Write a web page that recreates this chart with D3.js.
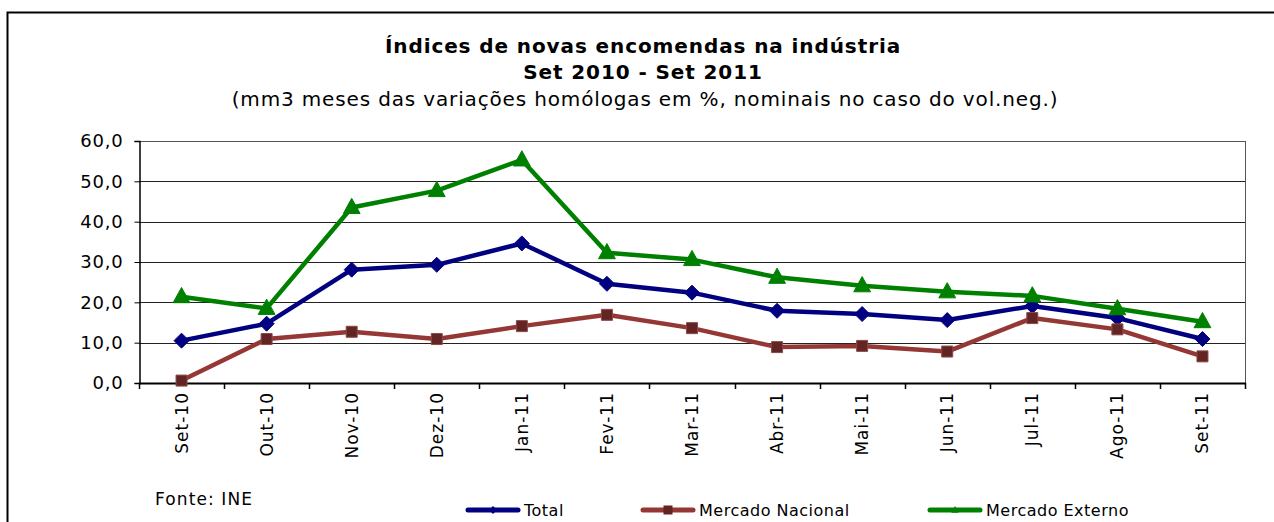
<!DOCTYPE html>
<html lang="pt">
<head>
<meta charset="UTF-8">
<title>Índices de novas encomendas na indústria</title>
<script src="https://cdn.jsdelivr.net/npm/d3@7"></script>
<style>
  body { margin: 0; background: #fff; }
  text { font-family: "DejaVu Sans", Verdana, sans-serif; fill: #000; }
</style>
</head>
<body>
<script>
// data
var categories = ["Set-10", "Out-10", "Nov-10", "Dez-10", "Jan-11", "Fev-11", "Mar-11",
                  "Abr-11", "Mai-11", "Jun-11", "Jul-11", "Ago-11", "Set-11"];
var total    = [10.5, 14.7, 28.1, 29.3, 34.6, 24.6, 22.4, 17.9, 17.1, 15.6, 19.1, 16.1, 10.9];
var nacional = [0.6, 10.9, 12.7, 10.9, 14.1, 16.9, 13.6, 8.9, 9.2, 7.8, 16.1, 13.3, 6.6];
var externo  = [21.4, 18.5, 43.5, 47.7, 55.3, 32.3, 30.6, 26.2, 24.1, 22.6, 21.6, 18.4, 15.2];
var yTicks = [0, 10, 20, 30, 40, 50, 60];

var series = [
  { name: "Total", values: total, line: "#000080", fill: "#000080", marker: "diamond" },
  { name: "Mercado Nacional", values: nacional, line: "#953735", fill: "#632523", marker: "square" },
  { name: "Mercado Externo", values: externo, line: "#008000", fill: "#008000", marker: "triangle" }
];

var W = 1274, H = 522;
var pLeft = 139, pRight = 1245, pTop = 141, pBottom = 383;

var svg = d3.select("body").append("svg")
    .attr("width", W)
    .attr("height", H);

// outer frame
svg.append("path")
    .attr("d", "M7.5," + H + " V12.5 H" + W)
    .attr("fill", "none")
    .attr("stroke", "#000")
    .attr("stroke-width", 2);

// titles
svg.append("text").attr("x", 643).attr("y", 53).attr("text-anchor", "middle")
    .attr("font-size", "20px").attr("font-weight", "bold").attr("letter-spacing", "0.9px")
    .text("Índices de novas encomendas na indústria");
svg.append("text").attr("x", 643).attr("y", 79).attr("text-anchor", "middle")
    .attr("font-size", "20px").attr("font-weight", "bold").attr("letter-spacing", "0.9px")
    .text("Set 2010 - Set 2011");
svg.append("text").attr("x", 645).attr("y", 106).attr("text-anchor", "middle")
    .attr("font-size", "20px").attr("letter-spacing", "0.85px")
    .text("(mm3 meses das variações homólogas em %, nominais no caso do vol.neg.)");

var x = d3.scaleBand().domain(categories).range([pLeft, pRight]);
var y = d3.scaleLinear().domain([0, 60]).range([pBottom, pTop]);
function cx(d, i) { return x(categories[i]) + x.bandwidth() / 2; }

// gridlines
svg.append("g").selectAll("line")
    .data(yTicks.filter(function(d) { return d > 0; }))
    .enter().append("line")
    .attr("x1", pLeft).attr("x2", pRight)
    .attr("y1", function(d) { return Math.round(y(d)) + 0.5; })
    .attr("y2", function(d) { return Math.round(y(d)) + 0.5; })
    .attr("stroke", function(d) { return d === 60 ? "#555" : "#222"; })
    .attr("stroke-width", 1);

// right border of plot area
svg.append("line")
    .attr("x1", pRight + 0.5).attr("x2", pRight + 0.5)
    .attr("y1", pTop).attr("y2", pBottom)
    .attr("stroke", "#555");

// y axis
var yAxis = d3.axisLeft(y).tickValues(yTicks).tickSize(5).tickPadding(11)
    .tickFormat(function(d) { return d3.format(".1f")(d).replace(".", ","); });
var gy = svg.append("g").attr("transform", "translate(" + (pLeft + 0.5) + ",0)").call(yAxis);
gy.select(".domain").attr("stroke", "#000").attr("stroke-width", 1.5);
gy.selectAll(".tick line").attr("stroke", "#000");
gy.selectAll("text").attr("font-size", "18px").attr("letter-spacing", "0.8px")
    .attr("font-family", "DejaVu Sans").attr("fill", "#000");

// x axis: ticks between categories
var gx = svg.append("g");
gx.append("line")
    .attr("x1", pLeft).attr("x2", pRight + 1)
    .attr("y1", pBottom + 0.5).attr("y2", pBottom + 0.5)
    .attr("stroke", "#000").attr("stroke-width", 2);
gx.selectAll("line.tk")
    .data(d3.range(categories.length + 1))
    .enter().append("line").attr("class", "tk")
    .attr("x1", function(i) { return Math.round(pLeft + i * x.bandwidth()) + 0.5; })
    .attr("x2", function(i) { return Math.round(pLeft + i * x.bandwidth()) + 0.5; })
    .attr("y1", pBottom).attr("y2", pBottom + 6)
    .attr("stroke", "#000").attr("stroke-width", 1.5);
gx.selectAll("text")
    .data(categories)
    .enter().append("text")
    .attr("transform", function(d, i) {
        return "translate(" + (cx(d, i) + 6) + "," + (pBottom + 9) + ") rotate(-90)";
    })
    .attr("text-anchor", "end")
    .attr("font-size", "17px")
    .attr("letter-spacing", "1px")
    .text(function(d) { return d; });

// markers
function markerPath(type, s) {
  if (type === "diamond") return "M0," + (-s) + "L" + s + ",0L0," + s + "L" + (-s) + ",0Z";
  if (type === "square") return "M" + (-s) + "," + (-s) + "H" + s + "V" + s + "H" + (-s) + "Z";
  return "M0," + (-s * 1.15) + "L" + (s * 1.05) + "," + (s * 0.75) + "L" + (-s * 1.05) + "," + (s * 0.75) + "Z";
}
var markerSize = { diamond: 7.5, square: 5.5, triangle: 8 };

var line = d3.line()
    .x(function(d, i) { return cx(d, i); })
    .y(function(d) { return y(d); });

series.forEach(function(s) {
  svg.append("path")
      .datum(s.values)
      .attr("d", line)
      .attr("fill", "none")
      .attr("stroke", s.line)
      .attr("stroke-width", 4.5)
      .attr("stroke-linejoin", "round");
  svg.append("g").selectAll("path")
      .data(s.values)
      .enter().append("path")
      .attr("transform", function(d, i) { return "translate(" + cx(d, i) + "," + y(d) + ")"; })
      .attr("d", markerPath(s.marker, markerSize[s.marker]))
      .attr("fill", s.fill)
      .attr("stroke", s.marker === "square" ? "#8a4a48" : s.fill)
      .attr("stroke-width", 1);
});

// source
svg.append("text").attr("x", 155).attr("y", 505).attr("font-size", "17px")
    .attr("letter-spacing", "1.1px").text("Fonte: INE");

// legend
var legendX = [466, 641, 928];
var lg = svg.append("g").selectAll("g")
    .data(series)
    .enter().append("g")
    .attr("transform", function(d, i) { return "translate(" + legendX[i] + ",510)"; });
lg.append("line")
    .attr("x1", 2).attr("x2", 52)
    .attr("stroke", function(d) { return d.line; })
    .attr("stroke-width", 5)
    .attr("stroke-linecap", "round");
lg.append("path")
    .attr("transform", "translate(27,0)")
    .attr("d", function(d) {
      if (d.marker === "square") return markerPath("square", 4.5);
      if (d.marker === "diamond") return markerPath("diamond", 4);
      return markerPath("triangle", 3.5);
    })
    .attr("fill", function(d) { return d.fill; });
lg.append("text")
    .attr("x", 58).attr("y", 6)
    .attr("font-size", "16px")
    .attr("letter-spacing", "0.5px")
    .text(function(d) { return d.name; });
</script>
</body>
</html>
